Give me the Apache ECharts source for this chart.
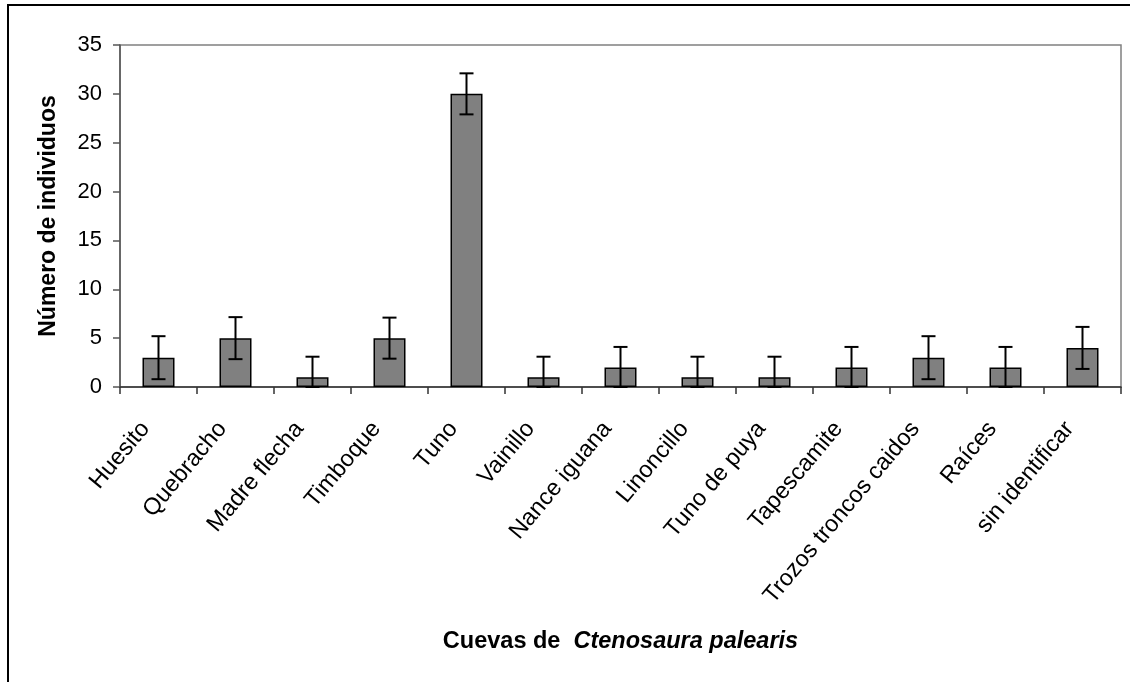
<!DOCTYPE html>
<html>
<head>
<meta charset="utf-8">
<script src="https://cdn.jsdelivr.net/npm/echarts@6/dist/echarts.min.js"></script>
<style>
  html, body { margin: 0; padding: 0; background: #fff; }
  #chart { width: 1130px; height: 682px; }
</style>
</head>
<body>
<div id="chart"></div>
<script>
// Cuevas de Ctenosaura palearis - número de individuos por tipo de cueva

const categories = ['Huesito', 'Quebracho', 'Madre flecha', 'Timboque', 'Tuno', 'Vainillo',
    'Nance iguana', 'Linoncillo', 'Tuno de puya', 'Tapescamite', 'Trozos troncos caidos',
    'Raíces', 'sin identificar'];
const counts = [3, 5, 1, 5, 30, 1, 2, 1, 1, 2, 3, 2, 4];
const errors = [2.2, 2.15, 2.1, 2.1, 2.1, 2.1, 2.1, 2.1, 2.1, 2.1, 2.2, 2.1, 2.15];
const yTicks = { min: 0, max: 35, interval: 5 };

const FONT = '"Liberation Sans", Arial, sans-serif';

// error bars clipped at the axis (as in the original)
const errorData = counts.map((v, i) => [i, Math.max(0, v - errors[i]), v + errors[i]]);

const chart = echarts.init(document.getElementById('chart'));

chart.setOption({
    backgroundColor: '#fff',
    animation: false,
    textStyle: { fontFamily: FONT },
    grid: {
        left: 120, right: 9, top: 45, bottom: 295,
        show: true, borderColor: '#808080', borderWidth: 1.5,
        containLabel: false
    },
    xAxis: {
        type: 'category',
        data: categories,
        axisLine: { lineStyle: { color: '#333', width: 1.5 } },
        axisTick: { show: true, alignWithLabel: false, length: 7, lineStyle: { color: '#333', width: 1.5 } },
        axisLabel: {
            rotate: 50, color: '#000', fontSize: 23.5, fontFamily: FONT,
            margin: 41, interval: 0, verticalAlign: 'bottom', padding: [0, 6, 0, 0]
        },
        name: '{b|Cuevas de  }{bi|Ctenosaura palearis}',
        nameLocation: 'middle',
        nameGap: 243,
        nameTextStyle: {
            rich: {
                b: { fontWeight: 'bold', fontSize: 23.5, fontFamily: FONT, color: '#000' },
                bi: { fontWeight: 'bold', fontStyle: 'italic', fontSize: 23.5, fontFamily: FONT, color: '#000' }
            }
        }
    },
    yAxis: {
        type: 'value',
        min: yTicks.min, max: yTicks.max, interval: yTicks.interval,
        splitLine: { show: false },
        axisLine: { show: true, lineStyle: { color: '#555', width: 1.5 } },
        axisTick: { show: true, length: 7, lineStyle: { color: '#555', width: 1.5 } },
        axisLabel: { color: '#000', fontSize: 22, fontFamily: FONT, margin: 18 },
        name: 'Número de individuos',
        nameLocation: 'middle',
        nameGap: 60,
        nameTextStyle: { fontWeight: 'bold', fontSize: 23, fontFamily: FONT, color: '#000' }
    },
    series: [
        {
            type: 'bar',
            data: counts,
            barWidth: 32,
            itemStyle: { color: '#808080', borderColor: '#000', borderWidth: 1.5 }
        },
        {
            type: 'custom',
            data: errorData,
            z: 10,
            renderItem: function (params, api) {
                const x = api.value(0);
                const lo = api.coord([x, api.value(1)]);
                const hi = api.coord([x, api.value(2)]);
                const half = 7;
                const style = { stroke: '#000', lineWidth: 2 };
                return {
                    type: 'group',
                    children: [
                        { type: 'line', shape: { x1: hi[0], y1: hi[1], x2: lo[0], y2: lo[1] }, style: style },
                        { type: 'line', shape: { x1: hi[0] - half, y1: hi[1], x2: hi[0] + half, y2: hi[1] }, style: style },
                        { type: 'line', shape: { x1: lo[0] - half, y1: lo[1], x2: lo[0] + half, y2: lo[1] }, style: style }
                    ]
                };
            }
        }
    ],
    graphic: [
        // outer chart frame (top and left edges visible)
        { type: 'line', shape: { x1: 7, y1: 5, x2: 1130, y2: 5 }, style: { stroke: '#000', lineWidth: 2 } },
        { type: 'line', shape: { x1: 8, y1: 5, x2: 8, y2: 682 }, style: { stroke: '#000', lineWidth: 2 } }
    ]
});

window.addEventListener('resize', function () {
    chart.resize();
});
</script>
</body>
</html>
